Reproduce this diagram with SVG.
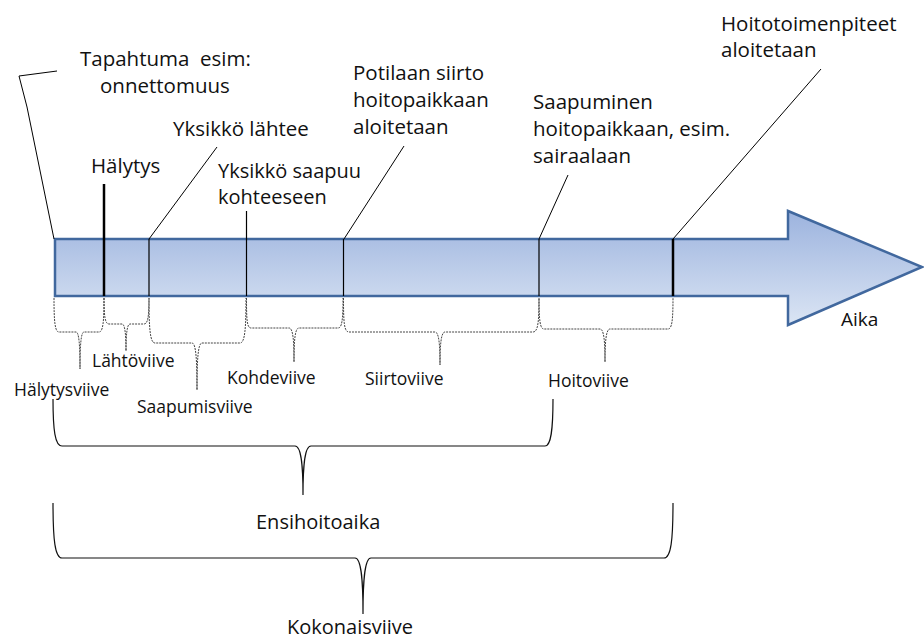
<svg xmlns="http://www.w3.org/2000/svg" width="924" height="639" viewBox="0 0 924 639">
<style>
  text { font-family: "Open Sans", "Liberation Sans", sans-serif; fill: #111; }
  .lbl { font-size: 20.5px; }
  .sm { font-size: 17.5px; }
  .big { font-size: 20px; }
  .lead { stroke: #000; stroke-width: 1; fill: none; }
  .tick { stroke: #000; stroke-width: 1.2; fill: none; }
  .thick { stroke: #000; stroke-width: 2.5; fill: none; }
  .br { stroke: #444; stroke-width: 1; stroke-dasharray: 2 1; fill: none; }
  .bigbr { stroke: #111; stroke-width: 1.2; fill: none; }
</style>
<defs>
  <linearGradient id="arrowFill" x1="0" y1="211" x2="0" y2="325" gradientUnits="userSpaceOnUse">
    <stop offset="0" stop-color="#9cb3de"/>
    <stop offset="1" stop-color="#dbe5f4"/>
  </linearGradient>
</defs>
<rect width="924" height="639" fill="#fff"/>

<g id="time-arrow">
  <path d="M55,239 L788,239 L788,211 L922,267 L788,325 L788,296 L55,296 Z" fill="url(#arrowFill)" stroke="#41689e" stroke-width="2.5" stroke-linejoin="miter"/>
</g>

<g id="connectors">
  <polyline class="lead" points="57,71 19,76 27,107 54,239"/>
  <line class="thick" x1="104" y1="184" x2="104" y2="296"/>
  <line class="lead" x1="217" y1="147" x2="149" y2="239"/>
  <line class="tick" x1="149" y1="239" x2="149" y2="296"/>
  <line class="tick" x1="246.5" y1="211" x2="246.5" y2="296"/>
  <line class="lead" x1="404" y1="146" x2="344" y2="239"/>
  <line class="tick" x1="343.5" y1="239" x2="343.5" y2="296"/>
  <line class="lead" x1="568" y1="175" x2="539" y2="239"/>
  <line class="tick" x1="539" y1="239" x2="539" y2="296"/>
  <line class="lead" x1="821" y1="69" x2="673" y2="239"/>
  <line class="thick" x1="673" y1="239" x2="673" y2="296"/>
</g>

<g id="brackets">
  <path class="br" d="M54,298 C54,322 55,332 59,332 L76,332 C79,332 80,345 80,369 C80,345 81,332 84,332 L99,332 C103,332 104,322 104,298"/>
  <path class="br" d="M104,298 C104,316 105,324 109,324 L122,324 C125,324 126,335 126,351 C126,335 127,324 130,324 L144,324 C148,324 149,316 149,298"/>
  <path class="br" d="M149,298 C149,328 150,343 155,343 L192,343 C196,343 197,360 197,390 C197,360 198,343 202,343 L240,343 C245,343 246,328 246,298"/>
  <path class="br" d="M246.5,298 C246.5,320 247,328 251,328 L289,328 C293,328 294,340 294,362 C294,340 295,328 299,328 L338,328 C342,328 343,320 343,298"/>
  <path class="br" d="M343.5,298 C343.5,322 344,332 349,332 L435,332 C439,332 440,345 440,365 C440,345 441,332 445,332 L533,332 C538,332 539,322 539,298"/>
  <path class="br" d="M539,298 C539,320 540,329 544,329 L600,329 C604,329 605,342 605,362 C605,342 606,329 610,329 L668,329 C672,329 673,320 673,298"/>
  <path class="bigbr" d="M53,399 C53,430 55,446 62,446 L295,446 C302,446 303,470 303,495 C303,470 304,446 311,446 L545,446 C551,446 553,430 553,399"/>
  <path class="bigbr" d="M53,503 C53,540 55,558 62,558 L355,558 C362,558 363,585 363,614 C363,585 364,558 371,558 L664,558 C671,558 673,540 673,503"/>
</g>

<g id="label-tapahtuma">
  <text class="lbl" x="80" y="66" style="white-space:pre">Tapahtuma  esim:</text>
  <text class="lbl" x="100" y="93">onnettomuus</text>
</g>
<g id="label-halytys"><text class="lbl" x="91" y="173">Hälytys</text></g>
<g id="label-lahtee"><text class="lbl" x="173" y="136">Yksikkö lähtee</text></g>
<g id="label-saapuu">
  <text class="lbl" x="218" y="178" style="font-size:20px">Yksikkö saapuu</text>
  <text class="lbl" x="218" y="204" style="font-size:20px">kohteeseen</text>
</g>
<g id="label-siirto">
  <text class="lbl" x="353" y="80">Potilaan siirto</text>
  <text class="lbl" x="353" y="107">hoitopaikkaan</text>
  <text class="lbl" x="353" y="134">aloitetaan</text>
</g>
<g id="label-saapuminen">
  <text class="lbl" x="533" y="109">Saapuminen</text>
  <text class="lbl" x="533" y="136">hoitopaikkaan, esim.</text>
  <text class="lbl" x="533" y="163">sairaalaan</text>
</g>
<g id="label-hoito">
  <text class="lbl" x="721" y="31">Hoitotoimenpiteet</text>
  <text class="lbl" x="721" y="57">aloitetaan</text>
</g>
<g id="label-aika"><text x="841" y="326" style="font-size:19px">Aika</text></g>

<g id="label-halytysviive"><text class="sm" x="14" y="396">Hälytysviive</text></g>
<g id="label-lahtoviive"><text class="sm" x="92" y="367">Lähtöviive</text></g>
<g id="label-saapumisviive"><text class="sm" x="137" y="413">Saapumisviive</text></g>
<g id="label-kohdeviive"><text class="sm" x="227" y="384">Kohdeviive</text></g>
<g id="label-siirtoviive"><text class="sm" x="365" y="385">Siirtoviive</text></g>
<g id="label-hoitoviive"><text class="sm" x="548" y="387">Hoitoviive</text></g>
<g id="label-ensihoitoaika"><text class="big" x="256" y="529">Ensihoitoaika</text></g>
<g id="label-kokonaisviive"><text class="big" x="287" y="634">Kokonaisviive</text></g>
</svg>
